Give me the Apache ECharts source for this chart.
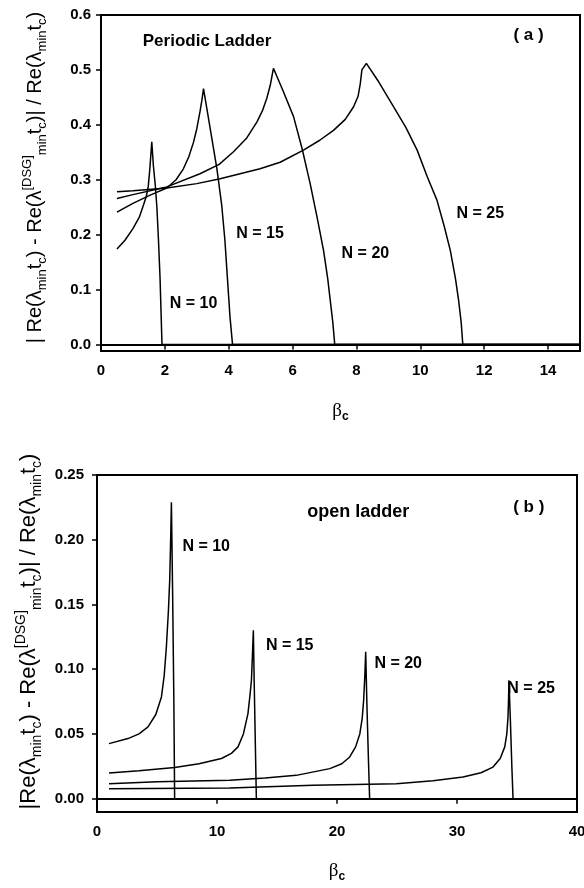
<!DOCTYPE html>
<html>
<head>
<meta charset="utf-8">
<script src="https://cdn.jsdelivr.net/npm/echarts@6/dist/echarts.min.js"></script>
<style>
  html, body { margin: 0; padding: 0; background: #fff; }
  #chart { width: 584px; height: 888px; }
</style>
</head>
<body>
<div id="chart"></div>
<script>
// panel (a) periodic ladder: [beta_c, relative deviation]
const periodicN10 = [[0.5,0.174],[0.75,0.19],[1.0,0.211],[1.2,0.232],[1.33,0.254],[1.42,0.27],[1.48,0.288],[1.53,0.32],[1.59,0.369],[1.64,0.326],[1.7,0.29],[1.75,0.25],[1.8,0.19],[1.85,0.12],[1.88,0.06],[1.91,0],[15,0]]
const periodicN15 = [[0.5,0.241],[1.0,0.257],[1.54,0.272],[2.06,0.285],[2.35,0.3],[2.58,0.32],[2.75,0.342],[2.9,0.369],[3.0,0.393],[3.1,0.424],[3.16,0.445],[3.21,0.466],[3.42,0.393],[3.63,0.32],[3.78,0.254],[3.88,0.19],[3.96,0.12],[4.04,0.05],[4.12,0],[15,0]]
const periodicN20 = [[0.5,0.266],[1.0,0.273],[2.06,0.287],[3.1,0.311],[3.7,0.328],[4.15,0.351],[4.55,0.375],[4.88,0.405],[5.05,0.425],[5.19,0.448],[5.3,0.472],[5.4,0.503],[5.7,0.462],[6.03,0.415],[6.3,0.356],[6.55,0.293],[6.78,0.228],[6.97,0.171],[7.1,0.12],[7.18,0.08],[7.26,0.04],[7.32,0],[15,0]]
const periodicN25 = [[0.5,0.278],[1.0,0.28],[2.06,0.285],[3.0,0.293],[3.73,0.302],[4.98,0.32],[5.61,0.332],[6.34,0.354],[6.85,0.372],[7.28,0.39],[7.65,0.41],[7.91,0.433],[8.05,0.452],[8.12,0.475],[8.17,0.5],[8.31,0.512],[8.7,0.478],[9.16,0.433],[9.55,0.395],[9.9,0.354],[10.22,0.305],[10.52,0.263],[10.75,0.215],[10.94,0.171],[11.1,0.12],[11.2,0.08],[11.28,0.04],[11.33,0],[15,0]]

// panel (b) open ladder
const openN10 = [[1.0,0.0425],[2.58,0.0464],[3.5,0.05],[4.25,0.0554],[4.9,0.065],[5.37,0.0786],[5.6,0.095],[5.78,0.117],[5.95,0.145],[6.06,0.169],[6.15,0.205],[6.2,0.229],[6.3,0.16],[6.4,0.08],[6.47,0],[20.9,0]]
const openN15 = [[1.0,0.0198],[3.5,0.0215],[6.47,0.024],[8.5,0.027],[10.37,0.031],[11.2,0.035],[11.75,0.04],[12.2,0.05],[12.58,0.0657],[12.75,0.08],[12.87,0.0915],[12.97,0.115],[13.03,0.13],[13.1,0.09],[13.2,0.04],[13.28,0],[20.9,0]]
const openN20 = [[1.0,0.0116],[5,0.013],[11.06,0.0142],[14,0.016],[16.6,0.018],[19.4,0.0232],[20.4,0.027],[21.06,0.0322],[21.55,0.04],[21.9,0.05],[22.1,0.062],[22.22,0.076],[22.32,0.095],[22.39,0.1134],[22.5,0.07],[22.62,0.03],[22.72,0],[40,0]]
const openN25 = [[1.0,0.0077],[11.06,0.0082],[18,0.0103],[24.95,0.0116],[28,0.0138],[30.5,0.0167],[32,0.02],[33.0,0.0244],[33.6,0.031],[33.98,0.04],[34.15,0.05],[34.25,0.063],[34.3,0.078],[34.33,0.0915],[34.45,0.06],[34.57,0.025],[34.67,0],[40,0]]

// text annotations placed in data coordinates
const notesA = [
  { name: 'Periodic Ladder', value: [3.32, 0.553], size: 17 },
  { name: '( a )', value: [13.39, 0.5636], size: 17 },
  { name: 'N = 10', value: [2.9, 0.0748], size: 16 },
  { name: 'N = 15', value: [4.98, 0.2024], size: 16 },
  { name: 'N = 20', value: [8.28, 0.166], size: 16 },
  { name: 'N = 25', value: [11.88, 0.239], size: 16 },
]
const notesB = [
  { name: 'open ladder', value: [21.77, 0.2214], size: 18 },
  { name: '( b )', value: [35.98, 0.2253], size: 17 },
  { name: 'N = 10', value: [9.1, 0.1944], size: 16 },
  { name: 'N = 15', value: [16.06, 0.1186], size: 16 },
  { name: 'N = 20', value: [25.1, 0.1046], size: 16 },
  { name: 'N = 25', value: [36.18, 0.0853], size: 16 },
]

const FONT = '"Liberation Sans", Arial, sans-serif'

const yNameTop = '{t|| Re(λ}{s|min}{t|t}{s|c}{t|) - Re(λ}{p|[DSG]}{s|min}{t|t}{s|c}{t|)| / Re(λ}{s|min}{t|t}{s|c}{t|)}'
const yNameBottom = '{t||Re(λ}{s|min}{t|t}{s|c}{t|) - Re(λ}{p|[DSG]}{s|min}{t|t}{s|c}{t|)| / Re(λ}{s|min}{t|t}{s|c}{t|)}'
const xName = '{b|β}{c|c}'

const makeNameRich = (big, small) => ({
  t: { fontSize: big, fontFamily: FONT, color: '#000', lineHeight: big + 8, verticalAlign: 'middle' },
  s: { fontSize: small, fontFamily: FONT, color: '#000', lineHeight: small, verticalAlign: 'bottom' },
  p: { fontSize: small, fontFamily: FONT, color: '#000', lineHeight: small, verticalAlign: 'top' },
})
const betaRich = {
  b: { fontSize: 19, fontFamily: '"Liberation Serif", serif', color: '#000', lineHeight: 24, verticalAlign: 'middle' },
  c: { fontSize: 12, fontWeight: 'bold', fontFamily: FONT, color: '#000', lineHeight: 10, verticalAlign: 'bottom' },
}

const axisLabel = { color: '#000', fontWeight: 'bold', fontSize: 15, fontFamily: FONT }
const axisLine = { show: true, lineStyle: { color: '#000', width: 2 } }
const axisTick = { show: true, inside: false, length: 5, lineStyle: { color: '#000', width: 1.5 } }

const lineSeries = (data, idx) => ({
  type: 'line',
  xAxisIndex: idx,
  yAxisIndex: idx,
  data,
  showSymbol: false,
  symbol: 'none',
  smooth: false,
  lineStyle: { color: '#000', width: 1.5 },
  silent: true,
})

const noteSeries = (notes, idx) => ({
  type: 'scatter',
  xAxisIndex: idx,
  yAxisIndex: idx,
  symbolSize: 0,
  silent: true,
  itemStyle: { opacity: 1 },
  data: notes.map(n => ({
    value: n.value,
    label: {
      show: true,
      position: 'inside',
      formatter: n.name,
      color: '#000',
      opacity: 1,
      fontWeight: 'bold',
      fontSize: n.size,
      fontFamily: FONT,
    },
  })),
})

const chart = echarts.init(document.getElementById('chart'))
chart.setOption({
  animation: false,
  backgroundColor: '#fff',
  grid: [
    { left: 101, top: 15, width: 479, height: 336, show: true, borderColor: '#000', borderWidth: 2, containLabel: false, outerBoundsMode: 'none' },
    { left: 97, top: 475, width: 480, height: 337, show: true, borderColor: '#000', borderWidth: 2, containLabel: false, outerBoundsMode: 'none' },
  ],
  xAxis: [
    {
      gridIndex: 0, type: 'value', min: 0, max: 15, interval: 2,
      axisLine, axisTick, splitLine: { show: false },
      axisLabel: { ...axisLabel, margin: 12, showMaxLabel: false },
      name: xName, nameLocation: 'middle', nameGap: 48,
      nameTextStyle: { rich: betaRich },
    },
    {
      gridIndex: 1, type: 'value', min: 0, max: 40, interval: 10,
      axisLine, axisTick, splitLine: { show: false },
      axisLabel: { ...axisLabel, margin: 12 },
      name: xName, nameLocation: 'middle', nameGap: 47,
      nameTextStyle: { rich: betaRich },
    },
  ],
  yAxis: [
    {
      gridIndex: 0, type: 'value', min: -0.0117, max: 0.6, splitNumber: 6,
      axisLine, axisTick, splitLine: { show: false },
      axisLabel: { ...axisLabel, margin: 10, showMinLabel: false, formatter: v => v.toFixed(1) },
      name: yNameTop, nameLocation: 'middle', nameRotate: 90, nameGap: 52,
      nameTextStyle: { rich: makeNameRich(20, 13), padding: [0, 0, 0, 11] },
    },
    {
      gridIndex: 1, type: 'value', min: -0.0103, max: 0.25, splitNumber: 5,
      axisLine, axisTick, splitLine: { show: false },
      axisLabel: { ...axisLabel, margin: 13, showMinLabel: false, formatter: v => v.toFixed(2) },
      name: yNameBottom, nameLocation: 'middle', nameRotate: 90, nameGap: 44,
      nameTextStyle: { rich: makeNameRich(22, 14), padding: [0, 0, 0, 24] },
    },
  ],
  series: [
    lineSeries(periodicN10, 0),
    lineSeries(periodicN15, 0),
    lineSeries(periodicN20, 0),
    lineSeries(periodicN25, 0),
    noteSeries(notesA, 0),
    lineSeries(openN10, 1),
    lineSeries(openN15, 1),
    lineSeries(openN20, 1),
    lineSeries(openN25, 1),
    noteSeries(notesB, 1),
  ],
})
</script>
</body>
</html>
